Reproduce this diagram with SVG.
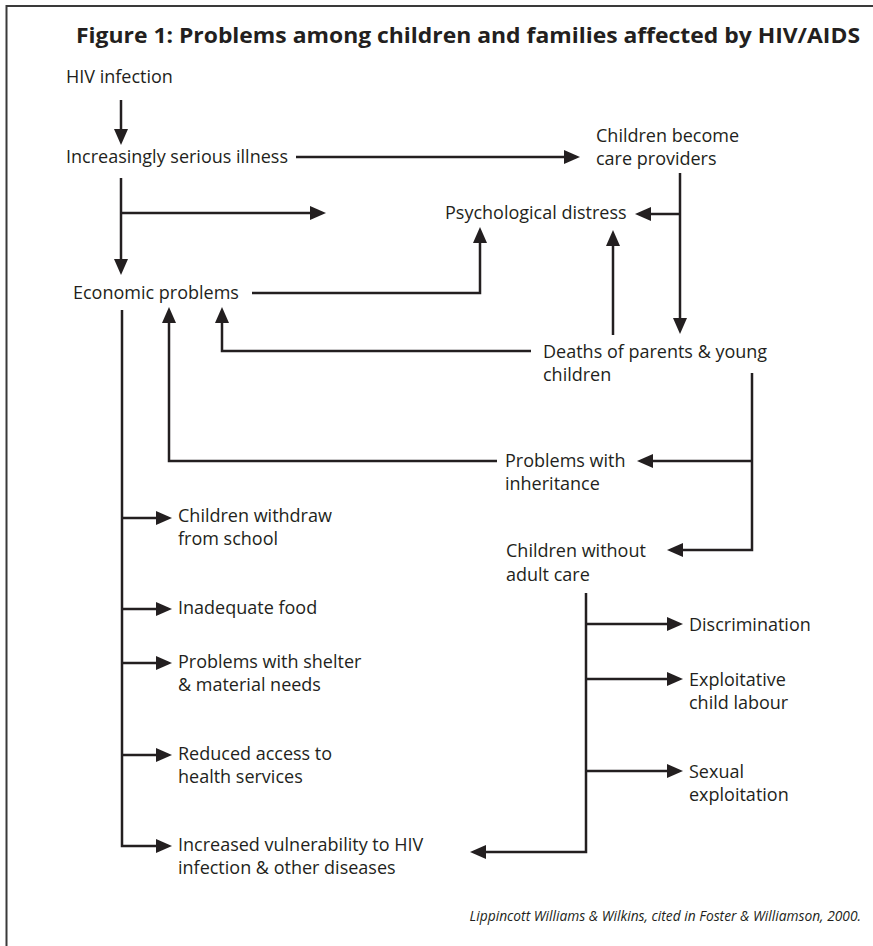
<svg xmlns="http://www.w3.org/2000/svg" width="873" height="946" viewBox="0 0 873 946">
  <style>
    .t { font-family: "Open Sans", "Noto Sans", "Liberation Sans", sans-serif; font-size: 18px; fill: #231f20; }
    .title { font-family: "Open Sans", "Liberation Sans", sans-serif; font-size: 22px; font-weight: bold; fill: #231f20; }
    .cap { font-family: "Open Sans", "Liberation Sans", sans-serif; font-size: 13.8px; font-style: italic; fill: #231f20; }
    .c { fill: none; stroke: #231f20; stroke-width: 2.5; marker-end: url(#arrow); }
  </style>
  <defs>
    <marker id="arrow" viewBox="0 0 16 14" refX="10" refY="7" markerWidth="16" markerHeight="14" markerUnits="userSpaceOnUse" orient="auto">
      <path d="M0,0 L16,7 L0,14 z" fill="#231f20"/>
    </marker>
  </defs>
  <rect width="873" height="946" fill="#ffffff"/>

  <!-- frame (left and top rules) -->
  <path d="M6.5,946 V6 H873" fill="none" stroke="#3a3a3a" stroke-width="2"/>

  <text class="title" x="76" y="43" textLength="784" lengthAdjust="spacingAndGlyphs">Figure 1: Problems among children and families affected by HIV/AIDS</text>

  <!-- connectors -->
  <g id="connectors">
    <path class="c" d="M121,100 V139"/>
    <path class="c" d="M296,157 H574"/>
    <path class="c" d="M121,178 V269"/>
    <path class="c" d="M121,213 H320"/>
    <path class="c" d="M680,173 V328"/>
    <path class="c" d="M680,214 H641"/>
    <path class="c" d="M252,293 H480 V233"/>
    <path class="c" d="M613,335 V236"/>
    <path class="c" d="M531,351 H222 V313"/>
    <path class="c" d="M752,373 V550 H673"/>
    <path class="c" d="M752,461 H643"/>
    <path class="c" d="M497,461 H169 V313"/>
    <path class="c" d="M586,593 V852 H476"/>
    <path class="c" d="M586,624 H677"/>
    <path class="c" d="M586,679 H677"/>
    <path class="c" d="M586,771 H677"/>
    <path class="c" d="M122,310 V846 H166"/>
    <path class="c" d="M122,518 H166"/>
    <path class="c" d="M122,609 H166"/>
    <path class="c" d="M122,663 H166"/>
    <path class="c" d="M122,755 H166"/>
  </g>

  <!-- nodes -->
  <g id="hiv-infection"><text class="t" x="66" y="83">HIV infection</text></g>
  <g id="serious-illness"><text class="t" x="66" y="163">Increasingly serious illness</text></g>
  <g id="care-providers"><text class="t" x="596" y="142">Children become</text><text class="t" x="596" y="165">care providers</text></g>
  <g id="psych-distress"><text class="t" x="445" y="219">Psychological distress</text></g>
  <g id="economic-problems"><text class="t" x="73" y="299">Economic problems</text></g>
  <g id="deaths"><text class="t" x="543" y="358">Deaths of parents &amp; young</text><text class="t" x="543" y="381">children</text></g>
  <g id="inheritance"><text class="t" x="505" y="467">Problems with</text><text class="t" x="505" y="490">inheritance</text></g>
  <g id="without-adult-care"><text class="t" x="506" y="557">Children without</text><text class="t" x="506" y="581">adult care</text></g>
  <g id="withdraw-school"><text class="t" x="178" y="522">Children withdraw</text><text class="t" x="178" y="545">from school</text></g>
  <g id="inadequate-food"><text class="t" x="178" y="614">Inadequate food</text></g>
  <g id="shelter"><text class="t" x="178" y="668">Problems with shelter</text><text class="t" x="178" y="691">&amp; material needs</text></g>
  <g id="health-services"><text class="t" x="178" y="760">Reduced access to</text><text class="t" x="178" y="783">health services</text></g>
  <g id="vulnerability"><text class="t" x="178" y="851">Increased vulnerability to HIV</text><text class="t" x="178" y="874">infection &amp; other diseases</text></g>
  <g id="discrimination"><text class="t" x="689" y="631">Discrimination</text></g>
  <g id="child-labour"><text class="t" x="689" y="686">Exploitative</text><text class="t" x="689" y="709">child labour</text></g>
  <g id="sexual-exploitation"><text class="t" x="689" y="778">Sexual</text><text class="t" x="689" y="801">exploitation</text></g>

  <text class="cap" x="861" y="921" text-anchor="end">Lippincott Williams &amp; Wilkins, cited in Foster &amp; Williamson, 2000.</text>
</svg>
